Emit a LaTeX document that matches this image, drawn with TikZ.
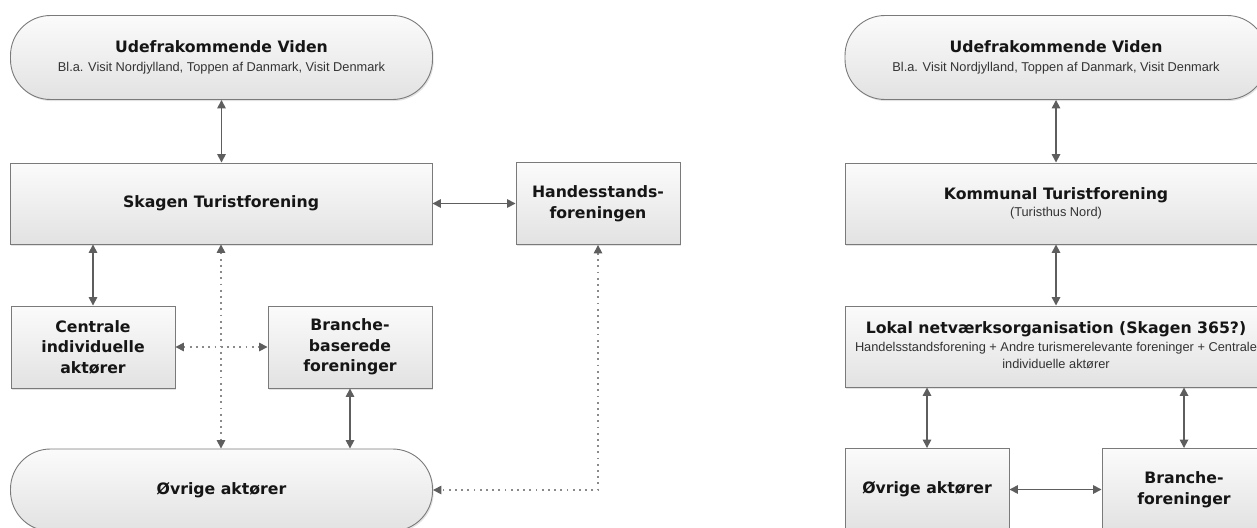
\documentclass[tikz,border=0pt]{standalone}
\usepackage{fontspec}
\setsansfont{DejaVu Sans}
\newfontfamily\subfont{Liberation Sans}
\usetikzlibrary{arrows.meta,shadows}
\definecolor{boxline}{HTML}{7A7A7A}
\definecolor{arrowc}{HTML}{5E5E5E}
\definecolor{dotc}{HTML}{8A8A8A}
\definecolor{topc}{HTML}{FBFBFB}
\definecolor{botc}{HTML}{E2E2E2}
\definecolor{txt}{HTML}{151515}
\definecolor{subc}{HTML}{333333}
\newcommand\subtxt{\subfont\mdseries\fontsize{12.8}{15}\selectfont\color{subc}}
\begin{document}
\begin{tikzpicture}[x=1pt,y=-1pt,
  box/.style={draw=boxline, line width=0.9pt, top color=topc, bottom color=botc,
    drop shadow={shadow xshift=1.2pt, shadow yshift=-1.6pt, opacity=0.22},
    inner sep=3pt, align=center, text=txt,
    font=\sffamily\bfseries\fontsize{15.7}{20.5}\selectfont},
  wide/.style={box, minimum width=422pt, minimum height=81pt},
  small/.style={box, minimum width=164pt, minimum height=82pt},
  pill/.style={box, minimum width=422pt, minimum height=84pt, rounded corners=40pt},
  link/.style={draw=arrowc, line width=1.6pt, {Triangle[length=8.5pt,width=8.5pt]}-{Triangle[length=8.5pt,width=8.5pt]}},
  dlink/.style={draw=dotc, line width=1.6pt, dash pattern=on 1.8pt off 4.4pt,
    {Triangle[length=8.5pt,width=8.5pt,color=arrowc]}-{Triangle[length=8.5pt,width=8.5pt,color=arrowc]}}]
\useasboundingbox (0,0) rectangle (1257,527);

% ---------- left diagram ----------
\node[pill] (udefL) at (221.5,57.5) {\begin{tabular}{@{}c@{}}Udefrakommende Viden\\[-1.5pt]\subtxt Bl.a. Visit Nordjylland, Toppen af Danmark, Visit Denmark\end{tabular}};
\node[wide] (skagen) at (221,203.5) {Skagen Turistforening};
\node[small] (handes) at (598,203.5) {Handesstands-\\foreningen};
\node[small] (centrale) at (93,347) {Centrale\\individuelle\\aktører};
\node[small] (brancheL) at (350,347) {Branche-\\baserede\\foreninger};
\node[pill, minimum height=82pt] (ovrigeL) at (221.5,490) {Øvrige aktører};

\draw[link] (udefL.south) -- (udefL.south |- skagen.north);
\draw[link] (skagen.east) -- (handes.west);
\draw[link] (skagen.south -| centrale.north) -- (centrale.north);
\draw[dlink] (skagen.south) -- (skagen.south |- ovrigeL.north);
\draw[dlink] (centrale.east) -- (brancheL.west);
\draw[link] (brancheL.south) -- (brancheL.south |- ovrigeL.north);
\draw[dlink] (handes.south) -- (handes.south |- ovrigeL.east) -- (ovrigeL.east);

% ---------- right diagram ----------
\node[pill] (udefR) at (1056,57.5) {\begin{tabular}{@{}c@{}}Udefrakommende Viden\\[-1.5pt]\subtxt Bl.a. Visit Nordjylland, Toppen af Danmark, Visit Denmark\end{tabular}};
\node[wide] (kommunal) at (1056,203.5) {\begin{tabular}{@{}c@{}}Kommunal Turistforening\\[-3.5pt]\subtxt (Turisthus Nord)\end{tabular}};
\node[wide] (lokal) at (1056,346.5) {\begin{tabular}{@{}c@{}}Lokal netværksorganisation (Skagen 365?)\\[-2.5pt]\subtxt Handelsstandsforening + Andre turismerelevante foreninger + Centrale\\[-3.5pt]\subtxt individuelle aktører\end{tabular}};
\node[small] (ovrigeR) at (927,489.5) {Øvrige aktører};
\node[small] (brancheR) at (1184,489.5) {Branche-\\foreninger};

\draw[link] (udefR.south) -- (udefR.south |- kommunal.north);
\draw[link] (kommunal.south) -- (lokal.north);
\draw[link] (lokal.south -| ovrigeR.north) -- (ovrigeR.north);
\draw[link] (lokal.south -| brancheR.north) -- (brancheR.north);
\draw[link] (ovrigeR.east) -- (brancheR.west);
\end{tikzpicture}
\end{document}
